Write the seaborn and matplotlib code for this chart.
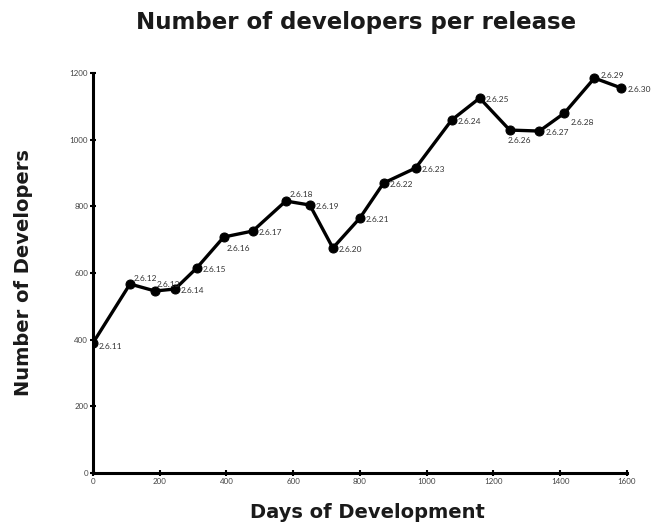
import matplotlib
matplotlib.use('Agg')
import matplotlib.pyplot as plt
import seaborn as sns
import pandas as pd

# datos
releases = ['2.6.11', '2.6.12', '2.6.13', '2.6.14', '2.6.15', '2.6.16', '2.6.17',
            '2.6.18', '2.6.19', '2.6.20', '2.6.21', '2.6.22', '2.6.23', '2.6.24',
            '2.6.25', '2.6.26', '2.6.27', '2.6.28', '2.6.29', '2.6.30']
days = [0, 111, 186, 246, 311, 392, 479, 578, 650, 719, 800, 871, 967, 1075,
        1159, 1249, 1338, 1413, 1503, 1584]
developers = [390, 567, 546, 552, 615, 708, 726, 816, 804, 675, 765, 870, 915,
              1059, 1125, 1029, 1026, 1080, 1185, 1155]
x_ticks = [0, 200, 400, 600, 800, 1000, 1200, 1400, 1600]
y_ticks = [0, 200, 400, 600, 800, 1000, 1200]

# desplazamiento de las etiquetas (pixeles)
offsets = {'2.6.11': (6, -4), '2.6.12': (4, 6), '2.6.13': (2, 6),
           '2.6.16': (3, -11), '2.6.18': (4, 7), '2.6.26': (-2, -10),
           '2.6.28': (6, -9), '2.6.29': (6, 3)}

df = pd.DataFrame({'release': releases, 'days': days, 'devs': developers})

sns.set_style('ticks')
plt.rcParams['font.family'] = ['Lato', 'DejaVu Sans']

fig = plt.figure(figsize=(6.64, 5.22), dpi=100)
ax = fig.add_axes([0.140, 0.094, 0.804, 0.766])

sns.lineplot(data=df, x='days', y='devs', color='black', linewidth=2.4,
             marker='o', markersize=6.5, markeredgecolor='black', ax=ax)

for r, xv, yv in zip(df['release'], df['days'], df['devs']):
    dx, dy = offsets.get(r, (6, -1))
    ax.annotate(r, (xv, yv), xytext=(dx, dy), textcoords='offset pixels',
                fontsize=6, color='#333333', ha='left', va='center')

ax.set_xlim(0, 1600)
ax.set_ylim(0, 1200)
ax.set_xticks(x_ticks)
ax.set_yticks(y_ticks)
ax.tick_params(axis='both', direction='inout', length=5, width=1.5,
               labelsize=5.8, labelcolor='#444444', color='black', pad=1)
for s in ['left', 'bottom']:
    ax.spines[s].set_linewidth(2.2)
    ax.spines[s].set_color('black')
sns.despine(ax=ax)

bold = dict(family='DejaVu Sans', fontweight='bold', color='#1a1a1a')
ax.set_xlabel('Days of Development', fontsize=14, labelpad=12, **bold)
ax.xaxis.set_label_coords(0.514, -0.075)
ax.set_ylabel('Number of Developers', fontsize=14, labelpad=26, **bold)
fig.text(0.536, 0.957, 'Number of developers per release', ha='center', va='center',
         fontsize=16.5, **bold)

fig.savefig('out.png', dpi=100)
